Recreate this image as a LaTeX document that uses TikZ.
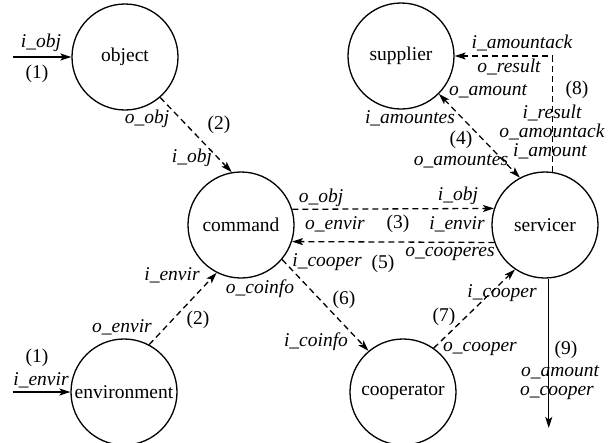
\documentclass[tikz,border=0pt]{standalone}
\usepackage{fontspec}
\setmainfont{Liberation Serif}
\usetikzlibrary{arrows.meta}
\begin{document}
\begin{tikzpicture}[x=1pt,y=-1pt,
  agent/.style={draw,circle,line width=1.3pt,minimum size=106pt,inner sep=0pt,font=\fontsize{19.5}{22}\selectfont},
  lbl/.style={inner sep=0pt,font=\fontsize{19.5}{22}\selectfont\itshape},
  num/.style={inner sep=0pt,font=\fontsize{19.5}{22}\selectfont},
  conn/.style={line width=1.3pt,-{Stealth[length=11pt,width=7pt,inset=2.5pt]}},
  dconn/.style={conn,dash pattern=on 6pt off 4pt}]
\useasboundingbox (0,0) rectangle (613,442);
\clip (0,0) rectangle (613,442);
% agents
\node[agent] (object) at (125,57) {object};
\node[agent] (supplier) at (401,56) {supplier};
\node[agent] (command) at (241,225) {command};
\node[agent] (servicer) at (545,225) {servicer};
\node[agent] (environment) at (124,392) {environment};
\node[agent] (cooperator) at (403,392) {cooperator};
% free ends
\coordinate (in1) at (13,57);
\coordinate (in2) at (13,392);
\coordinate (out9) at (548,428);
% connectors
\draw[conn] (in1) -- (object.west);
\draw[conn] (in2) -- (environment.west);
\draw[dconn] (object.-49) -- (command.100);
\draw[dconn] (environment.62.5) -- (command.-117);
\draw[dconn] (command.17.6) -- (servicer.162.4);
\draw[dconn] (servicer.-161.3) -- (command.-18.7);
\draw[dconn] (command.-40) -- (cooperator.130.6);
\draw[dconn] (cooperator.55.8) -- (servicer.-124.5);
\draw[dconn,{Stealth[length=11pt,width=7pt,inset=2.5pt]}-{Stealth[length=11pt,width=7pt,inset=2.5pt]}] (supplier.-45) -- (servicer.118.4);
\draw[dconn] (servicer.82.4) |- (supplier.east);
\draw[conn] (servicer.-86.8) -- (servicer.-86.8 |- out9);
% labels
\node[lbl] (a1) at (41,43) {i\_obj};
\node[num] (a2) at (37,74) {(1)};
\node[lbl] (a3) at (147,119) {o\_obj};
\node[num] (a4) at (219,125) {(2)};
\node[lbl] (a5) at (192,158) {i\_obj};
\node[lbl] (b1) at (321,198) {o\_obj};
\node[lbl] (b2) at (335,224) {o\_envir};
\node[num] (b3) at (398,224) {(3)};
\node[lbl] (b4) at (458,196) {i\_obj};
\node[lbl] (b5) at (457,224) {i\_envir};
\node[lbl] (c1) at (327,262) {i\_cooper};
\node[num] (c2) at (383,264) {(5)};
\node[lbl] (c3) at (450,254) {o\_cooperes};
\node[lbl] (d1) at (172,275) {i\_envir};
\node[lbl] (d2) at (260,289) {o\_coinfo};
\node[num] (d3) at (344,300) {(6)};
\node[num] (d4) at (198,320) {(2)};
\node[lbl] (d5) at (122,327) {o\_envir};
\node[num] (d6) at (37,358) {(1)};
\node[lbl] (d7) at (41,380) {i\_envir};
\node[lbl] (d8) at (316,342) {i\_coinfo};
\node[lbl] (e1) at (502,293) {i\_cooper};
\node[num] (e2) at (444,317) {(7)};
\node[lbl] (e3) at (480,349) {o\_cooper};
\node[num] (e4) at (566,350) {(9)};
\node[lbl] (e5) at (560,372) {o\_amount};
\node[lbl] (e6) at (557,393) {o\_cooper};
\node[lbl] (f1) at (522,43) {i\_amountack};
\node[lbl] (f2) at (509,67) {o\_result};
\node[num] (f3) at (577,90) {(8)};
\node[lbl] (f4) at (488,91) {o\_amount};
\node[lbl] (f5) at (552,113) {i\_result};
\node[lbl] (f6) at (552,132) {o\_amountack};
\node[lbl] (f7) at (550,151) {i\_amount};
\node[num] (f8) at (461,140) {(4)};
\node[lbl] (f9) at (461,161) {o\_amountes};
\node[lbl] (f10) at (410,118) {i\_amountes};
\end{tikzpicture}
\end{document}
